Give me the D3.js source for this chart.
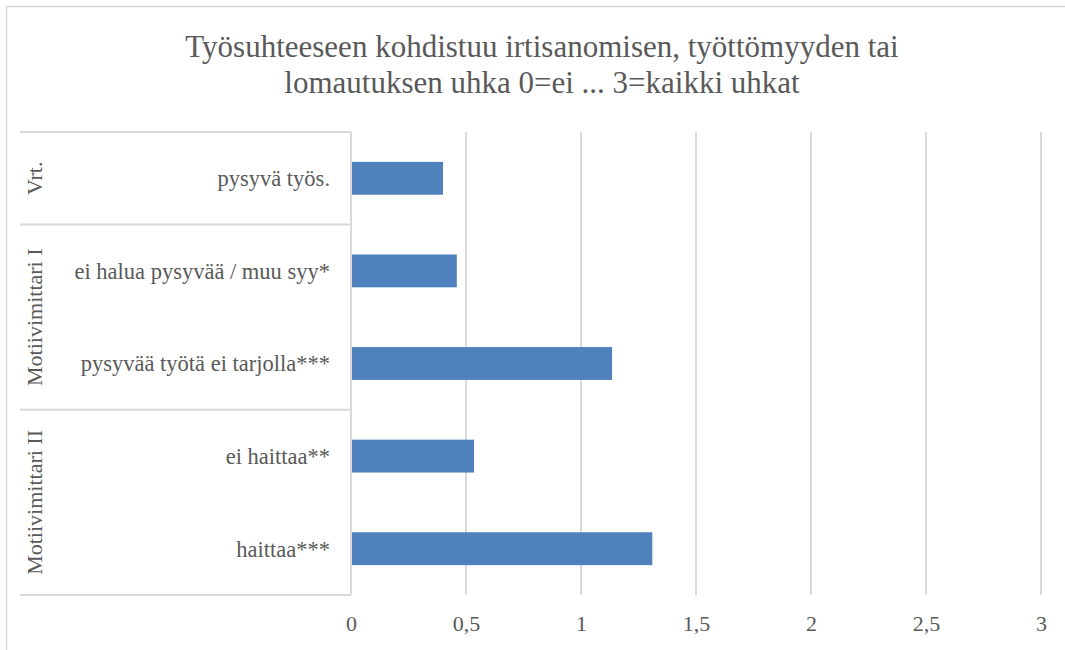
<!DOCTYPE html>
<html>
<head>
<meta charset="utf-8">
<script src="https://cdn.jsdelivr.net/npm/d3@7"></script>
<style>
  html, body { margin: 0; padding: 0; background: #fff; }
  svg { display: block; }
</style>
</head>
<body>
<svg id="chart" width="1065" height="650" font-family="Liberation Serif, DejaVu Serif, serif"></svg>
<script>
// Category hierarchy: group label for each row, and the row labels (top to bottom)
const groups = ["Vrt.", "Motiivimittari I", "Motiivimittari II"];
const groupOf = ["Vrt.", "Motiivimittari I", "Motiivimittari I", "Motiivimittari II", "Motiivimittari II"];
const categories = ["pysyvä työs.", "ei halua pysyvää / muu syy*", "pysyvää työtä ei tarjolla***", "ei haittaa**", "haittaa***"];
const values = [0.40, 0.46, 1.135, 0.535, 1.31];
const xTicks = [0, 0.5, 1, 1.5, 2, 2.5, 3];
const titleLines = ["Työsuhteeseen kohdistuu irtisanomisen, työttömyyden tai", "lomautuksen uhka 0=ei ... 3=kaikki uhkat"];

const svg = d3.select("#chart");
const W = 1065, H = 650;
const plot = { left: 351, right: 1041, top: 132, bottom: 595 };
const axisLeft = 20;
const gridColor = "#d9d9d9";
const textColor = "#595959";
const barColor = "#4f81bd";
const serif = "Liberation Serif";

// chart border
svg.append("rect")
  .attr("x", 6.5).attr("y", 6.5)
  .attr("width", W + 20).attr("height", H + 20)
  .attr("fill", "#fff").attr("stroke", "#d9d9d9").attr("stroke-width", 1.5);

// title, one text element per line
svg.append("g").selectAll("text").data(titleLines).join("text")
  .attr("x", 542)
  .attr("y", (d, i) => 57 + i * 36)
  .attr("text-anchor", "middle")
  .attr("fill", textColor)
  .attr("font-family", serif)
  .attr("font-size", 31)
  .text(d => d);

const x = d3.scaleLinear().domain([0, 3]).range([plot.left, plot.right]);
const y = d3.scaleBand().domain(categories).range([plot.top, plot.bottom]).paddingInner(0.645).paddingOuter(0.3225);

// vertical gridlines
svg.append("g").selectAll("line").data(xTicks.slice(1)).join("line")
  .attr("x1", d => x(d)).attr("x2", d => x(d))
  .attr("y1", plot.top).attr("y2", plot.bottom)
  .attr("stroke", gridColor).attr("stroke-width", 2);

// x tick labels via d3 axis
const xAxis = d3.axisBottom(x).tickValues(xTicks).tickSize(0).tickPadding(20)
  .tickFormat(d => String(d).replace(".", ","));
const gx = svg.append("g").attr("transform", `translate(0,${plot.bottom})`).call(xAxis);
gx.select(".domain").remove();
gx.attr("font-family", serif).attr("font-size", 22);
gx.selectAll("text").attr("fill", textColor);

// bars
svg.append("g").selectAll("rect").data(categories).join("rect")
  .attr("x", x(0))
  .attr("y", d => y(d))
  .attr("width", (d, i) => x(values[i]) - x(0))
  .attr("height", y.bandwidth())
  .attr("fill", barColor);

// category axis line
svg.append("line")
  .attr("x1", plot.left).attr("x2", plot.left)
  .attr("y1", plot.top).attr("y2", plot.bottom)
  .attr("stroke", gridColor).attr("stroke-width", 2);

// group boundaries
const rowH = (plot.bottom - plot.top) / categories.length;
const groupRanges = groups.map(g => {
  const idx = categories.map((c, i) => i).filter(i => groupOf[i] === g);
  return { g, y0: plot.top + idx[0] * rowH, y1: plot.top + (idx[idx.length - 1] + 1) * rowH };
});
const seps = [plot.top, ...groupRanges.map(r => r.y1)];
svg.append("g").selectAll("line").data(seps).join("line")
  .attr("x1", axisLeft).attr("x2", plot.left)
  .attr("y1", d => d).attr("y2", d => d)
  .attr("stroke", gridColor).attr("stroke-width", 2);

// row labels
svg.append("g").selectAll("text").data(categories).join("text")
  .attr("x", 330)
  .attr("y", d => y(d) + y.bandwidth() / 2)
  .attr("dy", "0.35em")
  .attr("text-anchor", "end")
  .attr("fill", textColor)
  .attr("font-family", serif)
  .attr("font-size", 22.5)
  .text(d => d);

// group labels (rotated)
svg.append("g").selectAll("text").data(groupRanges).join("text")
  .attr("transform", d => `translate(42,${(d.y0 + d.y1) / 2}) rotate(-90)`)
  .attr("text-anchor", "middle")
  .attr("fill", textColor)
  .attr("font-family", serif)
  .attr("font-size", 22)
  .text(d => d.g);
</script>
</body>
</html>
